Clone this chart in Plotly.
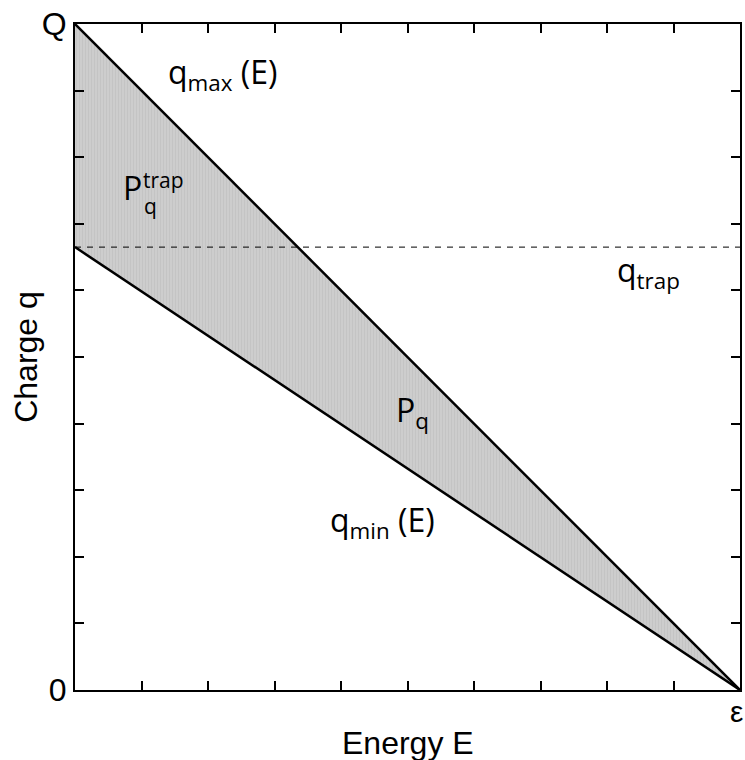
import plotly.graph_objects as go

energy = [0.0, 1.0]
q_max = [1.0, 0.0]
q_min = [0.665, 0.0]
q_trap = 0.665
tick_step = 0.1
y_tickvals = [0.0, 1.0]
y_ticktext = ["0", "Q"]
x_end_label = "ε"

fig = go.Figure()
fig.add_trace(go.Scatter(x=energy, y=q_min, mode="lines", line=dict(color="black", width=0), showlegend=False))
fig.add_trace(go.Scatter(x=energy, y=q_max, mode="lines", line=dict(color="black", width=0), fill="tonexty",
                         fillcolor="#cbcbcb",
                         fillpattern=dict(shape="|", bgcolor="#cdcdcd", fgcolor="#b9b9b9", size=3, solidity=0.3),
                         showlegend=False))
fig.add_trace(go.Scatter(x=energy, y=[q_trap, q_trap], mode="lines",
                         line=dict(color="black", width=1, dash="6px,6px"), showlegend=False))
fig.add_trace(go.Scatter(x=energy, y=q_max, mode="lines", line=dict(color="black", width=2.5), showlegend=False))
fig.add_trace(go.Scatter(x=energy, y=q_min, mode="lines", line=dict(color="black", width=2.5), showlegend=False))

afont = dict(family="Open Sans", size=32, color="black")
sfont = dict(family="Open Sans", size=21, color="black")
ann = [
    dict(x=0.222, y=0.925, text="q<sub>max</sub> (E)", font=afont),
    dict(x=0.862, y=0.628, text="q<sub>trap</sub>", font=afont),
    dict(x=0.507, y=0.417, text="P<sub>q</sub>", font=afont),
    dict(x=0.462, y=0.252, text="q<sub>min</sub> (E)", font=afont),
    dict(x=0.086, y=0.754, text="P", font=afont),
    dict(x=0.133, y=0.766, text="trap", font=sfont),
    dict(x=0.113, y=0.726, text="q", font=sfont),
]
for a in ann:
    a.update(xref="x", yref="y", showarrow=False)
tfont = dict(family="Liberation Sans", size=32, color="black")
ann.append(dict(xref="paper", yref="paper", x=0.5, y=-0.079, text="Energy E", font=tfont,
                showarrow=False, xanchor="center", yanchor="middle"))
ann.append(dict(xref="paper", yref="paper", x=-0.074, y=0.5, text="Charge q", font=tfont, textangle=-90,
                showarrow=False, xanchor="center", yanchor="middle"))
ann.append(dict(xref="paper", yref="paper", x=1.007, y=-0.032, text=x_end_label,
                font=dict(family="Liberation Sans", size=30, color="black"),
                showarrow=False, xanchor="right", yanchor="middle"))
fig.update_layout(annotations=ann)

fig.update_layout(
    width=745, height=760,
    margin=dict(l=75, r=5, t=24, b=70),
    plot_bgcolor="white", paper_bgcolor="white",
    font=dict(family="Liberation Sans", color="black"),
)
minor = dict(ticks="inside", ticklen=9, tickwidth=1.5, tickcolor="black",
             tickmode="linear", tick0=0, dtick=tick_step, showgrid=False)
fig.update_xaxes(range=[0, 1], tickvals=[0.0, 1.0], showticklabels=False, ticks="inside", ticklen=9,
                 tickwidth=1.5, tickcolor="black", showline=True, linecolor="black", linewidth=2,
                 mirror="ticks", showgrid=False, zeroline=False, minor=minor, automargin=False)
fig.update_yaxes(range=[0, 1], tickvals=y_tickvals, ticktext=y_ticktext, ticks="inside", ticklen=9,
                 tickwidth=1.5, tickcolor="black", showline=True, linecolor="black", linewidth=2,
                 mirror="ticks", showgrid=False, zeroline=False, tickfont=dict(size=32),
                 minor=minor, automargin=False)

fig.write_html("out.html")
